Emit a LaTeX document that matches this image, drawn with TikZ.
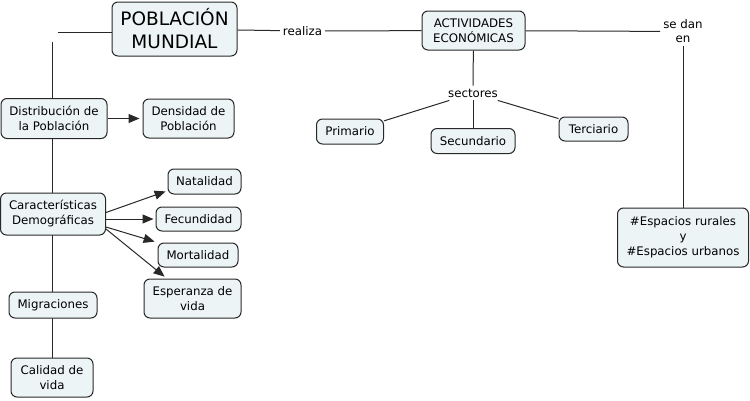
\documentclass[tikz,border=0pt]{standalone}
\usepackage{fontspec}
\setmainfont{DejaVu Sans}
\usetikzlibrary{arrows.meta,backgrounds}
\definecolor{cmapfill}{RGB}{237,244,246}
\definecolor{cmapline}{RGB}{40,40,40}
\begin{document}
\begin{tikzpicture}[x=1pt,y=-1pt,
  concept/.style={draw=cmapline,line width=1pt,fill=cmapfill,rounded corners=6pt,
    align=center,inner sep=0pt,font=\fontsize{11.8}{15}\selectfont},
  phrase/.style={align=center,inner sep=3pt,font=\fontsize{11.8}{14}\selectfont},
  link/.style={draw=cmapline,line width=1pt},
  arrow/.style={link,-{Triangle[length=11pt,width=9pt]}}]
  \useasboundingbox (0,0) rectangle (750,400);
%%
  % Node: pob
  \node[concept,minimum width=125pt,minimum height=54pt,font=\fontsize{18.5}{23}\selectfont] (pob) at (174.5,29) {POBLACIÓN\\MUNDIAL};
  % Node: act
  \node[concept,minimum width=103pt,minimum height=39pt] (act) at (473.5,30.5) {ACTIVIDADES\\ECONÓMICAS};
  % Node: espac
  \node[concept,minimum width=131pt,minimum height=59pt] (espac) at (683,237.5) {\#Espacios rurales\\y\\\#Espacios urbanos};
  % Node: prim
  \node[concept,minimum width=67pt,minimum height=25pt] (prim) at (350,131.5) {Primario};
  % Node: secun
  \node[concept,minimum width=84pt,minimum height=25pt] (secun) at (473,141) {Secundario};
  % Node: terc
  \node[concept,minimum width=69pt,minimum height=24pt] (terc) at (593.5,129) {Terciario};
  % Node: distrib
  \node[concept,minimum width=106pt,minimum height=40pt] (distrib) at (54,118.5) {Distribución de\\la Población};
  % Node: dens
  \node[concept,minimum width=91pt,minimum height=39pt] (dens) at (188.5,118.5) {Densidad de\\Población};
  % Node: caract
  \node[concept,minimum width=105pt,minimum height=42pt] (caract) at (53,214) {Características\\Demográficas};
  % Node: natal
  \node[concept,minimum width=73pt,minimum height=25pt] (natal) at (204.5,181.5) {Natalidad};
  % Node: fecund
  \node[concept,minimum width=85pt,minimum height=24pt] (fecund) at (198.5,219) {Fecundidad};
  % Node: mortal
  \node[concept,minimum width=80pt,minimum height=24pt] (mortal) at (198,255) {Mortalidad};
  % Node: esper
  \node[concept,minimum width=97pt,minimum height=39pt] (esper) at (192.5,298.5) {Esperanza de\\vida};
  % Node: migr
  \node[concept,minimum width=88pt,minimum height=26pt] (migr) at (53,305) {Migraciones};
  % Node: calid
  \node[concept,minimum width=82pt,minimum height=39pt] (calid) at (52,377.5) {Calidad de\\vida};
  % Link phrases
  \node[inner sep=0pt,minimum width=10pt,minimum height=20pt] (hub) at (52.5,32) {};
  \node[phrase] (realiza) at (302.5,31) {realiza};
  \node[phrase] (sectores) at (473,93) {sectores};
  \node[phrase] (sedan) at (683,31.5) {se dan\\en};
%
  \begin{pgfonlayer}{background}
  % Edge: pob -> hub -> left column
  \draw[link] (hub) -- (hub -| pob.west);
  \draw[link] (hub) -- (hub |- distrib.north);
  \draw[link] (hub) -- (hub |- caract.north);
  \draw[link] (hub) -- (hub |- migr.north);
  \draw[link] (hub) -- (hub |- calid.north);
  % Edge: pob -> realiza -> act
  \draw[link] (pob) -- (realiza);
  \draw[link] (realiza) -- (act);
  % Edge: act -> sectores
  \draw[link] (act) -- (sectores);
  \draw[link] (sectores) -- (prim);
  \draw[link] (sectores) -- (secun);
  \draw[link] (sectores) -- (terc);
  % Edge: act -> sedan -> espac
  \draw[link] (act) -- (sedan);
  \draw[link] (sedan) -- (espac);
  \end{pgfonlayer}
  % Edge: distrib -> dens
  \draw[arrow,shorten >=3pt] (distrib) -- (dens);
  % Edge: caract -> natal, fecund, mortal, esper
  \draw[arrow,shorten >=2pt] ([yshift=1.5pt]caract.east) -- (natal.194);
  \draw[arrow,shorten >=2pt] ([yshift=-5pt]caract.east) -- (fecund.west);
  \draw[arrow,shorten >=3pt] ([yshift=-13pt]caract.east) -- (mortal.north west);
  \draw[arrow,shorten >=3pt] ([yshift=-15pt]caract.east) -- (esper.142);
%
\end{tikzpicture}
\end{document}
